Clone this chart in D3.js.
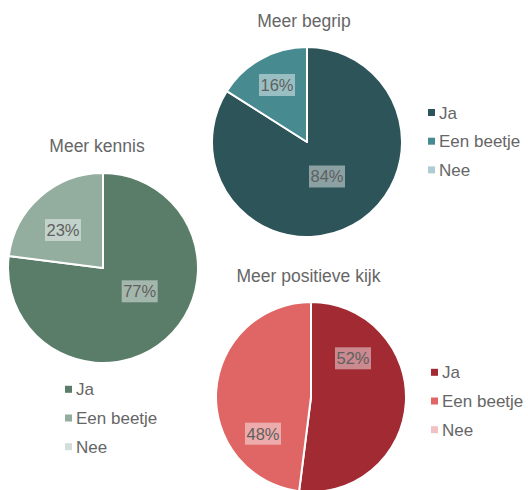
<!DOCTYPE html>
<html>
<head>
<meta charset="utf-8">
<script src="https://cdn.jsdelivr.net/npm/d3@7"></script>
<style>
  html, body { margin: 0; padding: 0; background: #ffffff; }
  svg { display: block; }
</style>
</head>
<body>
<svg id="chart" width="528" height="490"></svg>
<script>
// ---- DATA ----
const categories = ["Ja", "Een beetje", "Nee"];
const titles = ["Meer begrip", "Meer kennis", "Meer positieve kijk"];
const valuesBegrip = [84, 16, 0];
const valuesKennis = [77, 23, 0];
const valuesPositief = [52, 48, 0];
const colorsBegrip = ["#2c5459", "#478b91", "#aecbd6"];
const colorsKennis = ["#5a7d69", "#93ae9e", "#d3ded9"];
const colorsPositief = ["#a12a33", "#e06666", "#f2c1c4"];

// ---- LAYOUT (positions, not data) ----
const layout = [
  { cx: 307, cy: 142, r: 95, titleX: 304, titleY: 27,
    legendX: 428, legendY: 112.5, labelOff: [[20, 34.5], [-30, -57]] },
  { cx: 103, cy: 268, r: 95, titleX: 97, titleY: 152,
    legendX: 65, legendY: 389.3, labelOff: [[36.7, 23.3], [-40, -38]] },
  { cx: 311, cy: 397, r: 95, titleX: 308.5, titleY: 281.5,
    legendX: 431, legendY: 372.3, labelOff: [[42, -38.7], [-48, 36.7]] }
];
const charts = [
  { title: titles[0], values: valuesBegrip, colors: colorsBegrip },
  { title: titles[1], values: valuesKennis, colors: colorsKennis },
  { title: titles[2], values: valuesPositief, colors: colorsPositief }
];

const svg = d3.select("#chart");
const font = "'Liberation Sans', Arial, Helvetica, sans-serif";
const textColor = "#666666";

charts.forEach((c, i) => {
  const L = layout[i];
  const g = svg.append("g").attr("transform", `translate(${L.cx},${L.cy})`);
  const color = d3.scaleOrdinal().domain(categories).range(c.colors);
  const pie = d3.pie().sort(null).value(d => d.v);
  const data = categories.map((k, j) => ({ k, v: c.values[j] }));
  const arcs = pie(data);
  const arc = d3.arc().innerRadius(0).outerRadius(L.r);

  g.selectAll("path.slice")
    .data(arcs.filter(a => a.data.v > 0))
    .join("path")
    .attr("class", "slice")
    .attr("d", arc)
    .attr("fill", d => color(d.data.k))
    .attr("stroke", "#ffffff")
    .attr("stroke-width", 2)
    .attr("stroke-linejoin", "round");

  // labels
  const total = d3.sum(c.values);
  arcs.filter(a => a.data.v > 0).forEach((a, j) => {
    const off = L.labelOff[j];
    const txt = Math.round(a.data.v / total * 100) + "%";
    const lg = g.append("g").attr("transform", `translate(${off[0]},${off[1]})`);
    lg.append("rect")
      .attr("x", -18).attr("y", -11).attr("width", 36).attr("height", 22)
      .attr("fill", "rgba(255,255,255,0.45)");
    lg.append("text")
      .attr("text-anchor", "middle")
      .attr("dy", "0.36em")
      .attr("font-family", font)
      .attr("font-size", 16.5)
      .attr("fill", "#5f5f5f")
      .text(txt);
  });

  // title
  svg.append("text")
    .attr("x", L.titleX).attr("y", L.titleY)
    .attr("text-anchor", "middle")
    .attr("font-family", font)
    .attr("font-size", 17.5)
    .attr("fill", textColor)
    .text(c.title);

  // legend
  const leg = svg.append("g").attr("transform", `translate(${L.legendX},${L.legendY})`);
  const items = leg.selectAll("g").data(categories).join("g")
    .attr("transform", (d, j) => `translate(0,${j * 28.7})`);
  items.append("rect")
    .attr("x", 0).attr("y", -3.5).attr("width", 7).attr("height", 7)
    .attr("fill", d => color(d));
  items.append("text")
    .attr("x", 11).attr("dy", "0.36em")
    .attr("font-family", font)
    .attr("font-size", 17)
    .attr("fill", textColor)
    .text(d => d);
});
</script>
</body>
</html>
